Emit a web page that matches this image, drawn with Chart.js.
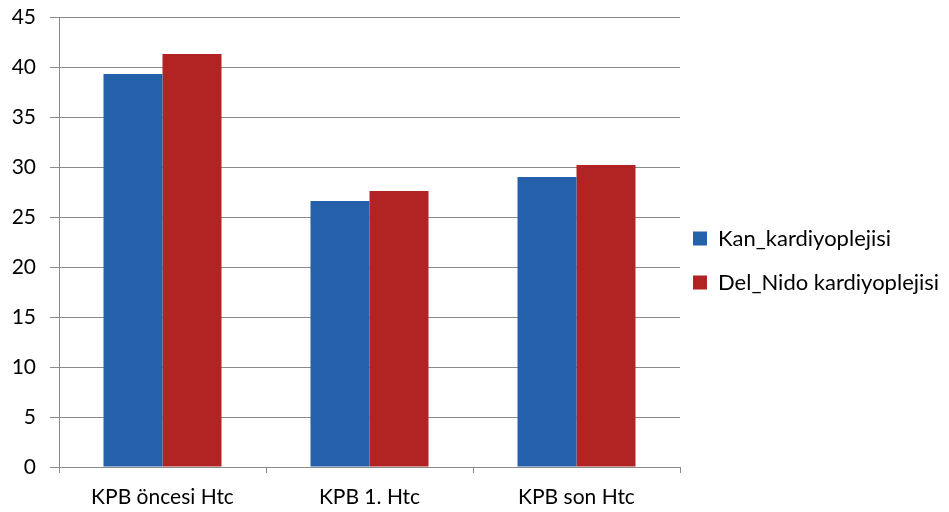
<!DOCTYPE html>
<html>
<head>
<meta charset="utf-8">
<script src="https://cdn.jsdelivr.net/npm/chart.js@4/dist/chart.umd.min.js"></script>
<style>
  html, body { margin: 0; padding: 0; background: #ffffff; }
  #wrap { width: 949px; height: 512px; }
</style>
</head>
<body>
<div id="wrap"><canvas id="c" width="949" height="512"></canvas></div>
<script>
// Hematocrit by phase, two cardioplegia groups
const categories = ['KPB öncesi Htc', 'KPB 1. Htc', 'KPB son Htc'];
const kanValues = [39.3, 26.6, 29.0];
const delNidoValues = [41.3, 27.6, 30.2];
const seriesNames = ['Kan_kardiyoplejisi', 'Del_Nido kardiyoplejisi'];
const yTicks = [0, 5, 10, 15, 20, 25, 30, 35, 40, 45];

const FONT = 'Lato, "Liberation Sans", sans-serif';
const gridGray = '#8a8a8a';
const LEGEND_WIDTH = 269;   // space reserved on the right for the legend
const LEGEND_BOX_X = 693;   // left edge of the legend swatches
const LEGEND_LIFT = 4;      // nudge the legend block upwards

// Fixed-width right legend, with its items starting at a set x
const legendPlacement = {
  id: 'legendPlacement',
  beforeLayout(chart) {
    const lg = chart.legend;
    if (lg && !lg.__fixed) {
      const origFit = lg.fit.bind(lg);
      lg.fit = function () {
        origFit();
        this.width = LEGEND_WIDTH;
      };
      lg.__fixed = true;
    }
  },
  afterLayout(chart) {
    const lg = chart.legend;
    if (!lg || !lg.columnSizes || !lg.columnSizes.length) return;
    const pad = lg.options.labels.padding;
    const colW = lg.columnSizes[0].width;
    lg.left = LEGEND_BOX_X - pad;
    lg.right = lg.left + pad + colW;
    lg.top -= LEGEND_LIFT;
    lg.bottom -= LEGEND_LIFT;
  }
};

new Chart(document.getElementById('c'), {
  type: 'bar',
  data: {
    labels: categories,
    datasets: [
      { label: seriesNames[0], data: kanValues, backgroundColor: '#2461aa', borderWidth: 0 },
      { label: seriesNames[1], data: delNidoValues, backgroundColor: '#b22323', borderWidth: 0 }
    ]
  },
  plugins: [legendPlacement],
  options: {
    responsive: false,
    animation: false,
    layout: { padding: { top: 17, left: 0, right: 0, bottom: 0 } },
    datasets: { bar: { categoryPercentage: 0.57, barPercentage: 1.0 } },
    plugins: {
      tooltip: { enabled: false },
      legend: {
        position: 'right',
        align: 'center',
        labels: {
          font: { family: FONT, size: 22 },
          color: '#000000',
          boxWidth: 14,
          boxHeight: 14,
          padding: 22
        }
      }
    },
    scales: {
      x: {
        grid: {
          display: true,
          drawOnChartArea: false,
          drawTicks: true,
          tickLength: 6,
          offset: true,
          color: gridGray
        },
        border: { display: true, color: gridGray },
        ticks: {
          font: { family: FONT, size: 21 },
          color: '#000000',
          padding: 12,
          maxRotation: 0
        },
        afterFit: (s) => { s.height = 45; s.paddingLeft = 0; s.paddingRight = 0; }
      },
      y: {
        min: 0,
        max: 45,
        afterBuildTicks: (s) => { s.ticks = yTicks.map(v => ({ value: v })); },
        grid: {
          color: gridGray,
          tickLength: 9,
          drawTicks: true
        },
        border: { display: true, color: gridGray },
        ticks: {
          font: { family: FONT, size: 21 },
          color: '#000000',
          padding: 14
        },
        afterFit: (s) => { s.width = 59; s.paddingTop = 0; s.paddingBottom = 0; }
      }
    }
  }
});
</script>
</body>
</html>
